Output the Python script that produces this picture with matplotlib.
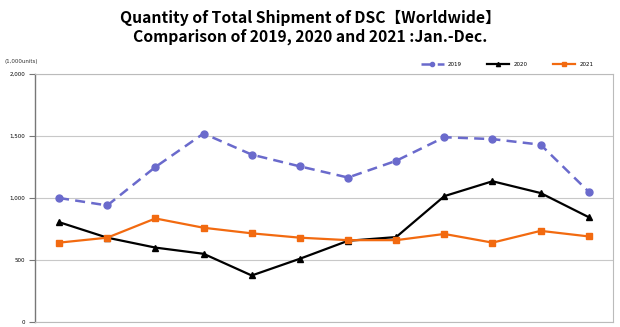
import matplotlib.pyplot as plt

months = ["Jan", "Feb", "Mar", "Apr", "May", "Jun", "Jul", "Aug", "Sep", "Oct", "Nov", "Dec"]
values_2019 = [1000, 940, 1250, 1520, 1350, 1255, 1165, 1300, 1490, 1475, 1430, 1050]
values_2020 = [805, 680, 600, 550, 375, 510, 655, 685, 1015, 1135, 1040, 845]
values_2021 = [640, 680, 835, 760, 715, 680, 660, 660, 710, 640, 735, 690]
y_ticks = [0, 500, 1000, 1500, 2000]
y_tick_labels = ["0", "500", "1,000", "1,500", "2,000"]

plt.rcParams["font.family"] = ["DejaVu Sans", "Noto Sans CJK JP"]

fig = plt.figure(figsize=(6.2, 3.27), dpi=100)
ax = fig.add_axes([0.0565, 0.0153, 0.932, 0.7584])

x = range(len(months))
ax.plot(x, values_2019, color="#6a6acc", linestyle=(0, (4, 2.5)), linewidth=1.8,
        marker="o", markersize=5, label="2019")
ax.plot(x, values_2020, color="black", linewidth=1.6,
        marker="^", markersize=5, label="2020")
ax.plot(x, values_2021, color="#f26a10", linewidth=1.6,
        marker="s", markersize=5, label="2021")

ax.set_xlim(-0.5, 11.5)
ax.set_ylim(0, 2000)
ax.set_yticks(y_ticks)
ax.set_yticklabels(y_tick_labels, fontsize=4)
ax.set_xticks([])
ax.tick_params(axis="y", length=4, color="#777777", pad=3)
ax.grid(axis="y", color="#c8c8c8", linewidth=0.8)
ax.set_axisbelow(True)

for side in ["top", "right", "bottom"]:
    ax.spines[side].set_color("#bbbbbb")
    ax.spines[side].set_linewidth(0.8)
ax.spines["left"].set_color("#777777")
ax.spines["left"].set_linewidth(1.0)

ax.legend(loc="lower right", bbox_to_anchor=(0.97, 1.02), ncol=3, frameon=False,
          fontsize=4, handlelength=4, columnspacing=4.5, markerscale=0.6,
          borderaxespad=0)

fig.text(0.008, 0.808, "(1,000units)", fontsize=4, color="#333333")

fig.text(0.5, 0.97,
         "Quantity of Total Shipment of DSC\u3010Worldwide\u3011\nComparison of 2019, 2020 and 2021 :Jan.-Dec.",
         ha="center", va="top", fontsize=11.3, fontweight="bold", linespacing=1.2,
         family=["Noto Sans CJK JP", "DejaVu Sans"])

fig.savefig("out.png", dpi=100)
